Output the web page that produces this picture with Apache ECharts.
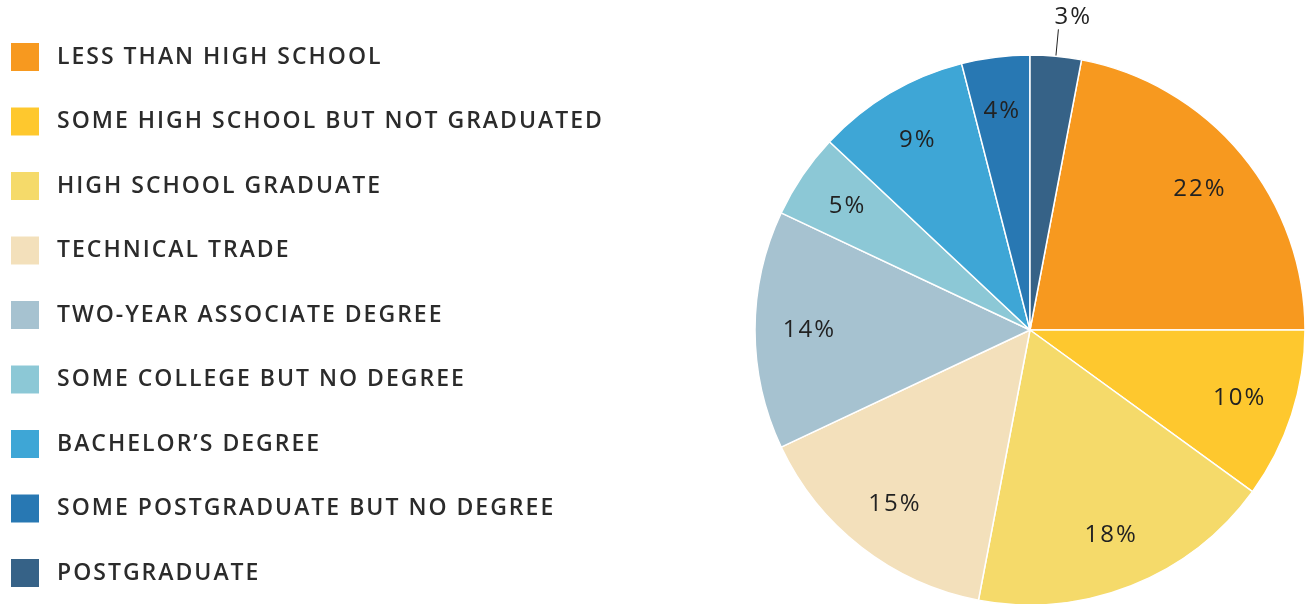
<!DOCTYPE html>
<html>
<head>
<meta charset="utf-8">
<script src="https://cdn.jsdelivr.net/npm/echarts@6/dist/echarts.min.js"></script>
<style>
  html, body { margin: 0; padding: 0; background: #fff; }
  #main { width: 1307px; height: 604px; }
</style>
</head>
<body>
<div id="main"></div>
<script>
// education levels, in legend order (clockwise on the pie)
var categories = [
    'LESS THAN HIGH SCHOOL',
    'SOME HIGH SCHOOL BUT NOT GRADUATED',
    'HIGH SCHOOL GRADUATE',
    'TECHNICAL TRADE',
    'TWO-YEAR ASSOCIATE DEGREE',
    'SOME COLLEGE BUT NO DEGREE',
    'BACHELOR\u2019S DEGREE',
    'SOME POSTGRADUATE BUT NO DEGREE',
    'POSTGRADUATE'
];
var shares = [22, 10, 18, 15, 14, 5, 9, 4, 3];
var colors = ['#f7991f', '#fec82e', '#f5da6a', '#f3e0bb', '#a6c2d0', '#8cc8d6', '#3ea6d6', '#2878b3', '#366287'];

// tracked lettering like the original; zrender has no letterSpacing option
(function () {
    var proto = CanvasRenderingContext2D.prototype;
    var fill = proto.fillText, measure = proto.measureText;
    proto.fillText = function () { this.letterSpacing = '2px'; return fill.apply(this, arguments); };
    proto.measureText = function () { this.letterSpacing = '2px'; return measure.apply(this, arguments); };
})();

var chart = echarts.init(document.getElementById('main'));

// last slice sits just right of 12 o'clock
var last = shares[shares.length - 1];
var start = 90 - last * 3.6;

var pieData = categories.map(function (c, i) {
    return { name: c, value: shares[i], itemStyle: { color: colors[i] } };
});

var labelFont = { fontFamily: 'Open Sans', fontSize: 24, color: '#222' };

var option = {
    animation: false,
    legend: {
        orient: 'vertical',
        left: 9,
        top: 41,
        height: 580,
        padding: 0,
        itemWidth: 30,
        itemHeight: 30,
        itemGap: 32.5,
        icon: 'rect',
        selectedMode: false,
        data: categories,
        textStyle: {
            fontFamily: 'Open Sans',
            fontWeight: 600,
            fontSize: 23,
            color: '#2b2b2b',
            padding: [2, 0, 0, 12]
        }
    },
    series: [
        {
            type: 'pie',
            center: [1030, 330],
            radius: [0, 275],
            startAngle: start,
            clockwise: true,
            avoidLabelOverlap: false,
            itemStyle: { borderColor: '#fff', borderWidth: 1.5 },
            label: { show: false },
            labelLine: { show: false },
            emphasis: { disabled: true },
            labelLayout: function (params) {
                if (params.dataIndex === shares.length - 1) return { dx: -9, dy: -12 };
            },
            data: pieData.map(function (d, i) {
                if (i !== pieData.length - 1) return d;
                return Object.assign({}, d, {
                    label: Object.assign({
                        show: true,
                        position: 'outside',
                        formatter: '{c}%'
                    }, labelFont),
                    labelLine: {
                        show: true,
                        length: 27,
                        length2: 0,
                        lineStyle: { color: '#222', width: 1 }
                    }
                });
            })
        },
        {
            // transparent ring only used to push the inside labels outward
            type: 'pie',
            center: [1030, 330],
            radius: [160, 275],
            startAngle: start,
            clockwise: true,
            silent: true,
            legendHoverLink: false,
            avoidLabelOverlap: false,
            itemStyle: { color: 'rgba(0,0,0,0)' },
            label: Object.assign({
                show: true,
                position: 'inside',
                formatter: '{c}%'
            }, labelFont),
            labelLine: { show: false },
            emphasis: { disabled: true },
            data: pieData.map(function (d, i) {
                if (i !== pieData.length - 1) return { name: d.name, value: d.value };
                return { name: d.name, value: d.value, label: { show: false } };
            })
        }
    ]
};

chart.setOption(option);
window.addEventListener('resize', function () { chart.resize(); }, false);
</script>
</body>
</html>
